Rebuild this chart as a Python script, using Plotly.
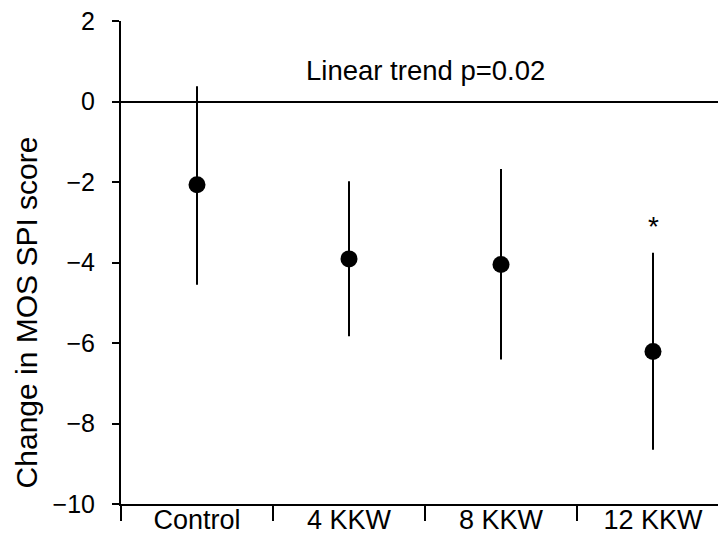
import plotly.graph_objects as go

categories = ["Control", "4 KKW", "8 KKW", "12 KKW"]
means = [-2.07, -3.91, -4.05, -6.21]
upper = [0.38, -1.98, -1.68, -3.76]
lower = [-4.55, -5.83, -6.41, -8.65]
y_ticks = [2, 0, -2, -4, -6, -8, -10]
y_tick_text = ["2", "0", "\u22122", "\u22124", "\u22126", "\u22128", "\u221210"]

err_plus = [u - m for u, m in zip(upper, means)]
err_minus = [m - l for m, l in zip(means, lower)]

FONT = "Liberation Sans, Arial, sans-serif"

fig = go.Figure()
fig.add_trace(go.Scatter(
    x=categories, y=means, mode="markers",
    marker=dict(size=17, color="black"),
    error_y=dict(type="data", array=err_plus, arrayminus=err_minus,
                 width=0, thickness=2, color="black"),
    showlegend=False,
))

fig.add_annotation(x="12 KKW", y=upper[3], text="*", showarrow=False,
                   yanchor="bottom", yshift=9,
                   font=dict(family=FONT, size=28, color="black"))
fig.add_annotation(x=0.5, xref="paper", y=0.78, yref="y", text="Linear trend p=0.02",
                   showarrow=False, font=dict(family=FONT, size=27.5, color="black"))
fig.add_annotation(x=-0.156, xref="paper", y=0.397, yref="paper",
                   text="Change in MOS SPI score", textangle=-90, showarrow=False,
                   xanchor="center", yanchor="middle",
                   font=dict(family=FONT, size=30, color="black"))

fig.update_layout(
    width=726, height=534,
    margin=dict(l=113, r=5, t=13, b=38),
    paper_bgcolor="white", plot_bgcolor="white",
    font=dict(family=FONT, size=27, color="black"),
    xaxis=dict(type="category", tickson="boundaries", ticks="outside", ticklen=15,
               tickwidth=2, tickcolor="black", showline=True, linecolor="black",
               linewidth=2, showgrid=False, zeroline=False, automargin=False,
               ticklabelstandoff=-9,
               range=[-0.5, 3.5], tickfont=dict(size=27)),
    yaxis=dict(range=[-10, 2], tickvals=y_ticks, ticktext=y_tick_text,
               ticks="outside", ticklen=7, tickwidth=2, tickcolor="black",
               ticklabelstandoff=12, ticklabeloverflow="allow",
               showline=True, linecolor="black", linewidth=2, showgrid=False,
               zeroline=True, zerolinecolor="black", zerolinewidth=2,
               automargin=False,
               tickfont=dict(size=25)),
)

fig.write_html("out.html")
